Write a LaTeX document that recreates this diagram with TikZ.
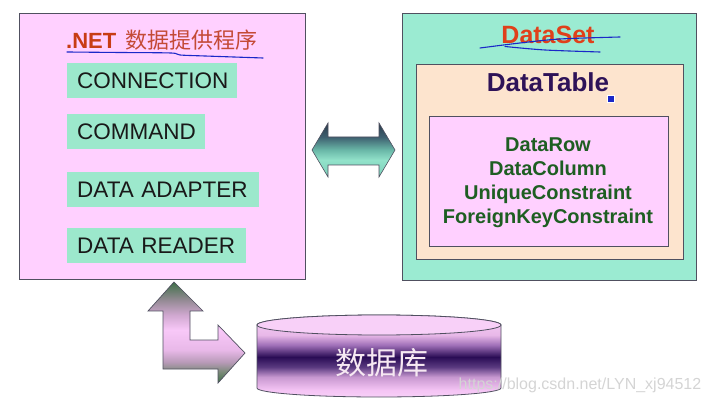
\documentclass[tikz,border=0pt]{standalone}
\usepackage{fontspec}
\setmainfont{Liberation Sans}
\newfontfamily\cjk{Noto Sans CJK SC}
\definecolor{pinkbg}{HTML}{FFD0FF}
\definecolor{aquabg}{HTML}{9BEBD2}
\definecolor{peachbg}{HTML}{FDE4CE}
\definecolor{tealitem}{HTML}{9CE8CC}
\definecolor{boxline}{HTML}{505060}
\definecolor{netred}{HTML}{C83C14}
\definecolor{cnred}{HTML}{C44A36}
\definecolor{dsred}{HTML}{E0401A}
\definecolor{dtpurple}{HTML}{2E1258}
\definecolor{rowgreen}{HTML}{1E5E22}
\definecolor{inkblue}{HTML}{1A28C8}
\definecolor{wmgrey}{HTML}{D4D4D4}
\definecolor{dbtext}{HTML}{F6E8F2}
% bent arrow colours
\definecolor{bA}{HTML}{3F7048}
\definecolor{bB}{HTML}{7A8A78}
\definecolor{bC}{HTML}{B89AB8}
\definecolor{bD}{HTML}{E8B8E8}
\definecolor{bE}{HTML}{F8C8F8}
\definecolor{bF}{HTML}{D0A8D0}
\definecolor{bG}{HTML}{948A94}
% double arrow colours
\definecolor{dA}{HTML}{7CCFB8}
\definecolor{dB}{HTML}{92E2CA}
\definecolor{dC}{HTML}{6AB8A8}
\definecolor{dD}{HTML}{3E6070}
\definecolor{dE}{HTML}{2A3A4A}
% cylinder colours
\definecolor{cA}{HTML}{F8D0F8}
\definecolor{cB}{HTML}{F4C4F4}
\definecolor{cC}{HTML}{C898D0}
\definecolor{cD}{HTML}{5A3A80}
\definecolor{cE}{HTML}{2A0C55}
\definecolor{cF}{HTML}{A070B8}
\definecolor{cG}{HTML}{E8B8E8}
\pgfdeclareverticalshading{bentshade}{100bp}{color(0bp)=(bA); color(25bp)=(bA); color(30.4bp)=(bB); color(35.4bp)=(bC); color(41.3bp)=(bD); color(51.2bp)=(bE); color(58.7bp)=(bF); color(66.1bp)=(bG); color(75bp)=(bA); color(100bp)=(bA)}
\pgfdeclareverticalshading{dblshade}{100bp}{color(0bp)=(dA); color(25bp)=(dA); color(40.7bp)=(dB); color(50bp)=(dC); color(62bp)=(dD); color(75bp)=(dE); color(100bp)=(dE)}
\pgfdeclareverticalshading{cylshade}{100bp}{color(0bp)=(cA); color(25bp)=(cA); color(29.3bp)=(cB); color(37.2bp)=(cC); color(43.3bp)=(cD); color(49.4bp)=(cE); color(56.7bp)=(cF); color(62.8bp)=(cG); color(75bp)=(cA); color(100bp)=(cA)}
\tikzset{
  box/.style={draw=boxline, line width=0.9pt, inner sep=0pt, rectangle, anchor=south west},
  itembox/.style={anchor=west, fill=tealitem, minimum height=35pt, inner xsep=10pt, inner ysep=0pt, align=left, text=black!90, font=\fontsize{22.5}{24}\selectfont},
  ink/.style={draw=inkblue, line width=1.1pt, line cap=round},
}
\begin{document}
\begin{tikzpicture}[x=1pt,y=1pt]
\useasboundingbox (0,0) rectangle (711,404);
% main boxes
\node[box, fill=pinkbg, minimum width=286pt, minimum height=266pt] (left) at (19,124) {};
\node[box, fill=aquabg, minimum width=294pt, minimum height=267pt] (right) at (402,123) {};
\node[box, fill=peachbg, minimum width=267pt, minimum height=195pt] (dt) at (416,144) {};
\node[box, fill=pinkbg, minimum width=239pt, minimum height=130pt] (inner) at (429,157) {};
% left title
\node[anchor=west, inner sep=0pt, font=\fontsize{22}{24}\selectfont] (title) at (66,364)
  {\textcolor{netred}{\bfseries .NET}\hspace{9pt}\textcolor{cnred}{\cjk 数据提供程序}};
\draw[ink] plot[smooth] coordinates {(67,352) (120,351.5) (171,351) (180,349) (205,348) (263,346)};
% items
\node[itembox, text width=150pt] (conn) at (67,323.5) {CONNECTION};
\node[itembox, text width=118pt] (cmd) at (67,272.5) {COMMAND};
\node[itembox, text width=172pt] (adp) at (67,214.5) {DATA ADAPTER};
\node[itembox, text width=159pt] (rdr) at (67,158) {DATA READER};
% right side texts
\node[inner sep=0pt, text=dsred, font=\bfseries\fontsize{25}{27}\selectfont] (ds) at (548,369) {DataSet};
\draw[ink] plot[smooth] coordinates {(480,356) (520,361) (560,365) (620,367)};
\draw[ink] plot[smooth] coordinates {(505,357.5) (545,354) (600,352)};
\node[inner sep=0pt, text=dtpurple, font=\bfseries\fontsize{26}{28}\selectfont] (dtlabel) at (548,322) {DataTable};
\node[fill=inkblue, draw=white, line width=0.6pt, minimum size=6.5pt, inner sep=0pt] (dot) at (611,305) {};
\node[inner sep=0pt, align=center, text=rowgreen, font=\bfseries\fontsize{20}{24}\selectfont] (rows) at (548,221.5)
  {DataRow\\DataColumn\\UniqueConstraint\\ForeignKeyConstraint};
% double arrow between the boxes
\path[shading=dblshade, draw=boxline, line width=0.6pt]
  (312,254) -- (328,281) -- (328,267) -- (379,267) -- (379,281) -- (395,254)
  -- (379,227) -- (379,239) -- (328,239) -- (328,227) -- cycle;
% bent arrow
\path[shading=bentshade, draw=boxline, line width=0.7pt]
  (174,122) -- (203,93) -- (190,93) -- (190,64) -- (218,64) -- (218,79)
  -- (245,51) -- (218,21) -- (218,35) -- (163,35) -- (163,93) -- (148,93) -- cycle;
% database cylinder
\path[shading=cylshade, draw=boxline, line width=0.8pt]
  (257,79) -- (257,16) arc[start angle=180, end angle=360, x radius=122pt, y radius=9pt]
  -- (501,79) arc[start angle=0, end angle=180, x radius=122pt, y radius=10pt] -- cycle;
\draw[fill=cA, draw=boxline, line width=0.8pt] (379,79) ellipse[x radius=122pt, y radius=10pt];
\node[inner sep=0pt, text=dbtext, font=\cjk\fontsize{31}{33}\selectfont] (db) at (382,41) {数据库};
% watermark
\node[inner sep=0pt, text=wmgrey, font=\fontsize{16}{18}\selectfont] (wm) at (580,19) {https://blog.csdn.net/LYN\_xj94512};
\end{tikzpicture}
\end{document}
